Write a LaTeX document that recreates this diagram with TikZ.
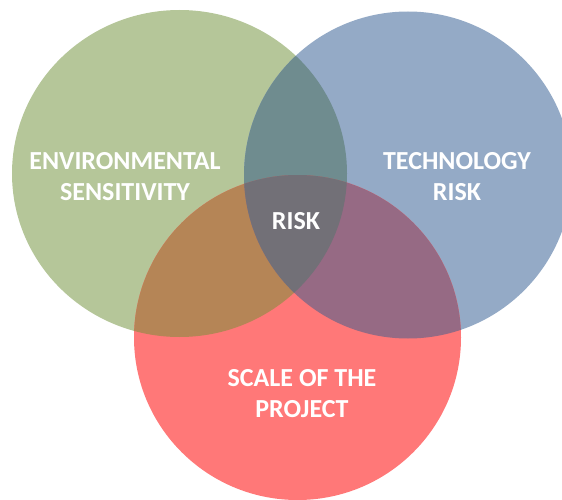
\documentclass[tikz,border=0pt]{standalone}
\usepackage{fontspec}
\setmainfont{Carlito}
\definecolor{cG}{HTML}{B5C699}
\definecolor{cB}{HTML}{94AAC6}
\definecolor{cR}{HTML}{FF7878}
\definecolor{cGB}{HTML}{6F8C8F}
\definecolor{cGR}{HTML}{B58556}
\definecolor{cBR}{HTML}{966A84}
\definecolor{cGBR}{HTML}{727077}
\begin{document}
\begin{tikzpicture}[x=1pt,y=-1pt,
  lbl/.style={text=white,font=\bfseries\fontsize{26}{31}\selectfont,align=center,inner sep=0pt}]
\useasboundingbox (0,0) rectangle (562,500);
\clip (0,0) rectangle (562,500);
% base circles
\fill[cG] (179.5,173.5) ellipse [x radius=167.5,y radius=163.5];
\fill[cB] (408,175) ellipse [x radius=164,y radius=163.5];
\fill[cR] (297.5,337.5) ellipse [x radius=163.5,y radius=162.5];
% pairwise overlaps
\begin{scope}
  \clip (179.5,173.5) ellipse [x radius=167.5,y radius=163.5];
  \fill[cGB] (408,175) ellipse [x radius=164,y radius=163.5];
  \fill[cGR] (297.5,337.5) ellipse [x radius=163.5,y radius=162.5];
\end{scope}
\begin{scope}
  \clip (408,175) ellipse [x radius=164,y radius=163.5];
  \fill[cBR] (297.5,337.5) ellipse [x radius=163.5,y radius=162.5];
  \clip (179.5,173.5) ellipse [x radius=167.5,y radius=163.5];
  \fill[cGBR] (297.5,337.5) ellipse [x radius=163.5,y radius=162.5];
\end{scope}
% labels
\node[lbl] (env) at (125,177) {ENVIRONMENTAL\\SENSITIVITY};
\node[lbl] (tech) at (457,177) {TECHNOLOGY\\RISK};
\node[lbl] (risk) at (296,221) {RISK};
\node[lbl] (scale) at (302,394) {SCALE OF THE\\PROJECT};
\end{tikzpicture}
\end{document}
